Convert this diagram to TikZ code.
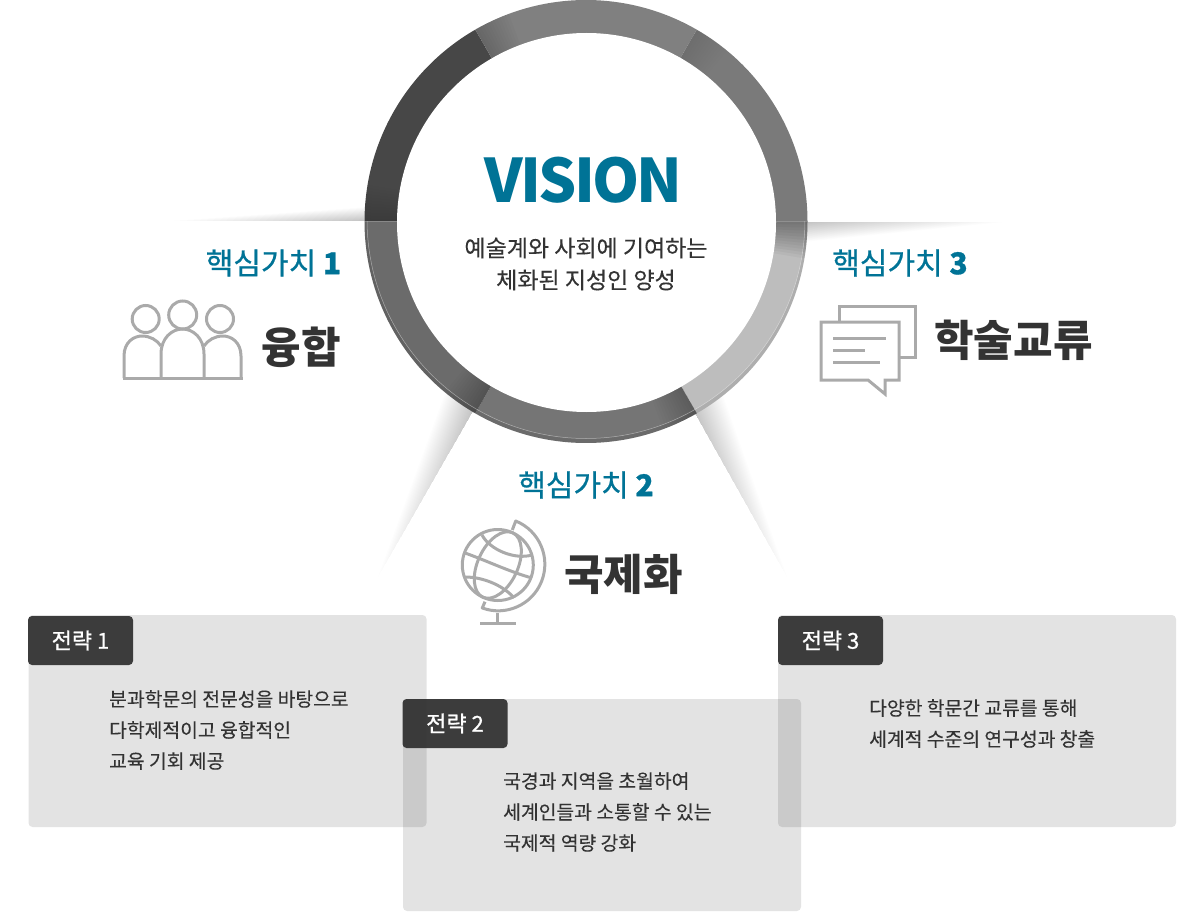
\documentclass[tikz,border=0pt]{standalone}
\usepackage{fontspec}
\setmainfont{Noto Sans CJK KR}
\newfontfamily\medfont[FakeBold=0.8]{Noto Sans CJK KR}
\newfontfamily\bodyfont[FakeBold=0.2]{Noto Sans CJK KR}
\newfontfamily\visionfont[LetterSpace=-4.5]{Noto Sans CJK KR}
\usepackage{tikz}
\usetikzlibrary{positioning, calc}

\definecolor{visionblue}{HTML}{007396}
\definecolor{icongray}{HTML}{AAAAAA}
\definecolor{inktext}{HTML}{333333}

\tikzset{
	stratbox/.style={fill=black, opacity=0.11, rounded corners=4pt, minimum width=398pt, minimum height=212pt, inner sep=0pt},
	stratlabel/.style={fill=inktext, fill opacity=0.95, text=white, text opacity=1, rounded corners=4pt, minimum width=105pt, minimum height=49pt, inner sep=0pt, font=\fontsize{22}{26}\selectfont\medfont},
	strattext/.style={anchor=west, align=left, inner sep=0pt, text=inktext, font=\fontsize{19.3}{31}\selectfont\bodyfont},
	coretitle/.style={text=visionblue, inner sep=0pt, font=\fontsize{30}{34}\selectfont\medfont},
	coreword/.style={text=inktext, inner sep=0pt, font=\fontsize{43}{48}\selectfont\bfseries},
	iconline/.style={draw=icongray, line width=3pt},
}

% one piece of the ring, angles in degrees
\newcommand{\ringseg}[3]{%
	\fill[#3] ($(vc)+(#1:221.5)$) arc[start angle=#1, end angle=#2, radius=221.5] -- ($(vc)+(#2:188)$) arc[start angle=#2, end angle=#1, radius=188] -- cycle;
}
% fading shadow: from (#1) to (#2), its width to the left of the way
\newcommand{\wedgeshade}[3]{%
	\foreach \w in {1,...,30}
		\fill[black, opacity=0.008] (#1) -- ($(#1)!{\w/30}!(#2)$) -- ($(#1)!{\w*#3/30}!90:(#2)$) -- cycle;
}

\begin{document}
\begin{tikzpicture}[x=1pt, y=1pt]
	\useasboundingbox (0,0) rectangle (1200,-920);
	\coordinate (vc) at (586,-221.5);

	% shadows behind the ring
	\coordinate (sl0) at (368,-221);
	\coordinate (sl1) at (170,-221);
	\coordinate (sr0) at (804,-222);
	\coordinate (sr1) at (1005,-222);
	\coordinate (sa0) at (476,-406);
	\coordinate (sa1) at (378,-577);
	\coordinate (sb0) at (692,-408);
	\coordinate (sb1) at (787,-577);
	\wedgeshade{sl0}{sl1}{-14pt}
	\wedgeshade{sr0}{sr1}{-20pt}
	\wedgeshade{sa0}{sa1}{-34pt}
	\wedgeshade{sb0}{sb1}{34pt}

	% ring
	\ringseg{120}{180}{black!72}
	\ringseg{60}{120}{black!50}
	\ringseg{0}{60}{black!52}
	\ringseg{-60}{0}{black!26}
	\ringseg{-120}{-60}{black!54}
	\ringseg{180}{240}{black!58}
	\foreach \seam/\op in {0/0.035,60/0.004,120/0.015,180/0.003,240/0.016,300/0.016}
		\foreach \i in {1,...,12}
			\fill[black, opacity=\op] ($(vc)+(\seam:221.5)$) arc[start angle=\seam, end angle=\seam-\i*0.8, radius=221.5] -- ($(vc)+(\seam-\i*0.8:188)$) arc[start angle=\seam-\i*0.8, end angle=\seam, radius=188] -- cycle;
	\begin{scope}
		\clip (360,-221.5) rectangle (812,-450);
		\fill[black, opacity=0.08, even odd rule] (vc) circle[radius=221.5] (586,-219.5) circle[radius=219];
		\draw[white, opacity=0.45, line width=0.5pt] (586,-219.5) circle[radius=219];
	\end{scope}
	\node[circle, fill=white, minimum size=379pt, inner sep=0pt] (hole) at (586.5,-222.5) {};

	% centre texts
	\node[text=visionblue, inner sep=0pt, font=\fontsize{60}{64}\selectfont\visionfont\bfseries] (vision) at (583.5,-180) {VISION};
	\node[align=center, inner sep=0pt, text=inktext, font=\fontsize{23}{32}\selectfont\bodyfont] (visiontext) at (586,-264) {예술계와 사회에 기여하는\\체화된 지성인 양성};

	% core values
	\node[coretitle] (core1) at (273.5,-263) {핵심가치 {\bfseries 1}};
	\node[coreword] (word1) at (301,-347) {융합};
	\node[coretitle] (core2) at (586,-485) {핵심가치 {\bfseries 2}};
	\node[coreword] (word2) at (623.5,-574) {국제화};
	\node[coretitle] (core3) at (900,-263) {핵심가치 {\bfseries 3}};
	\node[coreword] (word3) at (1013.5,-340.5) {학술교류};

	% people
	\draw[iconline] (145.7,-319) circle[radius=13.5];
	\draw[iconline] (182.7,-315) circle[radius=14];
	\draw[iconline] (220,-319) circle[radius=13.5];
	\draw[iconline, line join=round] (124,-378) -- (124,-356) .. controls (124,-342) and (134,-336) .. (142,-336) .. controls (150,-336) and (157,-340) .. (161,-346);
	\draw[iconline, line join=round] (161,-378) -- (161,-354) .. controls (161,-338) and (172,-329) .. (182.5,-329) .. controls (193,-329) and (204,-338) .. (204,-354) -- (204,-378);
	\draw[iconline, line join=round] (204,-346) .. controls (208,-340) and (215,-336) .. (223,-336) .. controls (231,-336) and (241,-342) .. (241,-356) -- (241,-378);
	\draw[iconline] (122.5,-378) -- (242.5,-378);

	% globe
	\coordinate (gc) at (497.8,-565);
	\begin{scope}
		\draw[iconline] (gc) circle[radius=35.5];
		\draw[iconline, rotate around={-25:(gc)}] (gc) ellipse[x radius=20, y radius=35.5];
		\draw[iconline] (465,-553) .. controls (485,-560) and (510,-572) .. (532,-578);
		\draw[iconline] (482,-535) .. controls (490,-550) and (515,-560) .. (532,-555);
		\draw[iconline] (465,-577) .. controls (485,-577) and (505,-587) .. (514,-598);
		\draw[iconline, line join=round] (512.3,-530) -- (515.7,-521) arc[start angle=68, end angle=-110, radius=46.6] -- (485,-601.7);
		\draw[iconline] (497.7,-613) -- (497.7,-623.5);
		\draw[iconline] (480,-623.5) -- (516,-623.5);
	\end{scope}

	% speech bubbles
	\draw[iconline, line join=miter] (839,-321) -- (839,-306) -- (915,-306) -- (915,-357) -- (900,-357);
	\draw[iconline, line join=miter] (821,-322) -- (899,-322) -- (899,-380) -- (885,-380) -- (885,-394) -- (868,-380) -- (821,-380) -- cycle;
	\draw[iconline] (833,-338) -- (886,-338);
	\draw[iconline] (833,-350) -- (865,-350);
	\draw[iconline] (833,-362.5) -- (880,-362.5);

	% strategy boxes
	\node[stratbox] (box1) at (227.5,-721) {};
	\node[stratbox] (box3) at (977,-721) {};
	\node[stratbox] (box2) at (602,-805) {};
	\node[stratlabel] (lab1) at (80.5,-640.5) {전략 1};
	\node[stratlabel] (lab2) at (455,-723.5) {전략 2};
	\node[stratlabel] (lab3) at (830.5,-640.5) {전략 3};
	\node[strattext] (txt1) at (109,-730) {분과학문의 전문성을 바탕으로\\다학제적이고 융합적인\\교육 기회 제공};
	\node[strattext] (txt2) at (503,-812) {국경과 지역을 초월하여\\세계인들과 소통할 수 있는\\국제적 역량 강화};
	\node[strattext] (txt3) at (869,-723.5) {다양한 학문간 교류를 통해\\세계적 수준의 연구성과 창출};
\end{tikzpicture}
\end{document}
